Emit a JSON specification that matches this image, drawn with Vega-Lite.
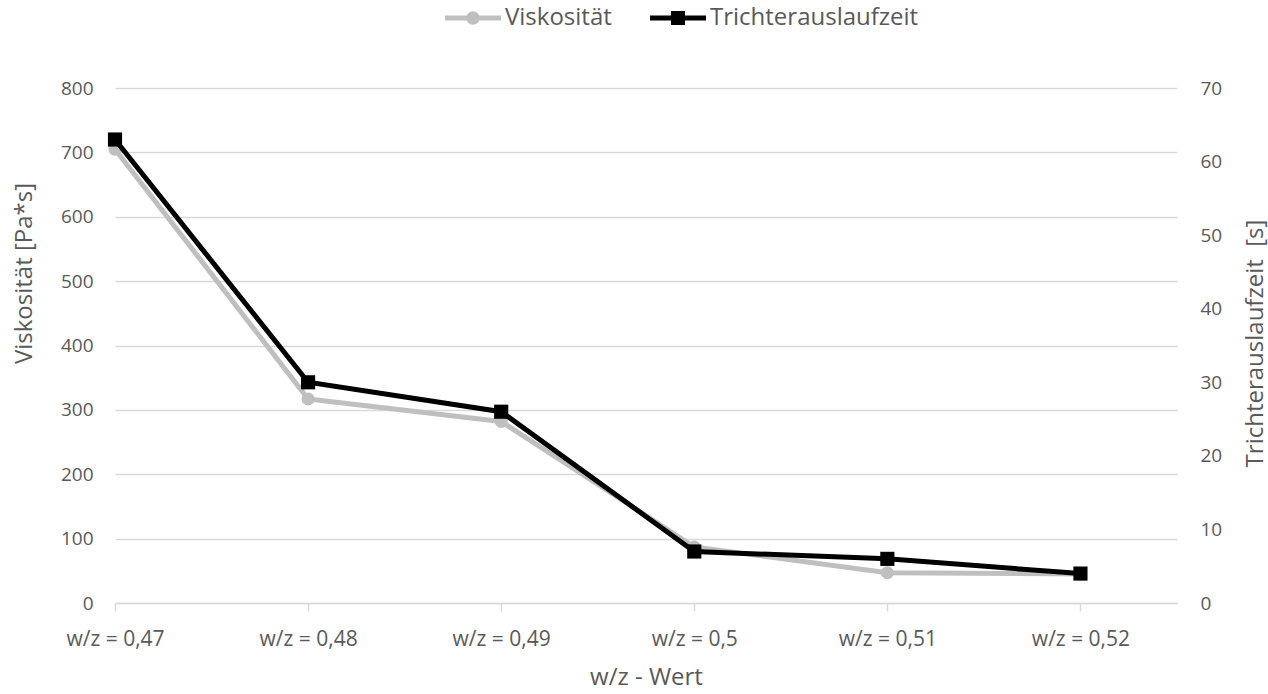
{
  "$schema": "https://vega.github.io/schema/vega-lite/v6.json",
  "width": 1062,
  "height": 515,
  "autosize": {"type": "none"},
  "padding": {"left": 115, "top": 88, "right": 91, "bottom": 91},
  "background": "white",
  "config": {
    "font": "Open Sans",
    "view": {"stroke": null},
    "axis": {
      "labelColor": "#595959",
      "titleColor": "#595959",
      "labelFont": "Open Sans",
      "titleFont": "Open Sans",
      "labelFontSize": 19,
      "titleFontSize": 24,
      "titleFontWeight": "normal",
      "gridColor": "#d9d9d9",
      "gridWidth": 1.3,
      "domainColor": "#d9d9d9",
      "tickColor": "#d9d9d9"
    },
    "legend": {
      "labelColor": "#595959",
      "labelFont": "Open Sans",
      "labelFontSize": 24,
      "labelLimit": 400
    }
  },
  "data": {
    "values": [
      {"wz": "w/z = 0,47", "visk": 705, "zeit": 63},
      {"wz": "w/z = 0,48", "visk": 317, "zeit": 30},
      {"wz": "w/z = 0,49", "visk": 282, "zeit": 26},
      {"wz": "w/z = 0,5", "visk": 87, "zeit": 7},
      {"wz": "w/z = 0,51", "visk": 47, "zeit": 6},
      {"wz": "w/z = 0,52", "visk": 45, "zeit": 4}
    ]
  },
  "encoding": {
    "x": {
      "field": "wz",
      "type": "ordinal",
      "sort": null,
      "scale": {"type": "point", "padding": 0.25, "align": 0},
      "axis": {
        "title": "w/z - Wert",
        "labelAngle": 0,
        "labelFontSize": 21,
        "domain": true,
        "domainWidth": 1.5,
        "ticks": true,
        "tickSize": 8,
        "tickWidth": 1.5,
        "grid": false,
        "labelPadding": 17,
        "titlePadding": 16
      }
    }
  },
  "layer": [
    {
      "encoding": {
        "y": {
          "field": "visk",
          "type": "quantitative",
          "scale": {"domain": [0, 800], "nice": false},
          "axis": {
            "title": "Viskosität [Pa*s]",
            "orient": "left",
            "values": [0, 100, 200, 300, 400, 500, 600, 700, 800],
            "labelOverlap": false,
            "domain": false,
            "ticks": false,
            "grid": true,
            "labelPadding": 22,
            "titleX": -91,
            "titleY": 185,
            "titleAngle": 270,
            "titleBaseline": "middle",
            "titleAlign": "center"
          }
        },
        "color": {
          "datum": "Viskosität",
          "type": "nominal",
          "scale": {"domain": ["Viskosität", "Trichterauslaufzeit"], "range": ["#bfbfbf", "#000000"]},
          "legend": {
            "title": null,
            "orient": "none",
            "direction": "horizontal",
            "legendX": 330,
            "legendY": -98,
            "symbolSize": 3136,
            "labelOffset": 4,
            "columnPadding": 38,
            "symbolStrokeWidth": 0,
            "encode": {
              "symbols": {
                "update": {
                  "shape": {"signal": "datum.value === 'Viskosität' ? 'M-1,-0.09H1V0.09H-1Z M0.24,0 A0.24,0.24 0 1,1 -0.24,0 A0.24,0.24 0 1,1 0.24,0Z' : 'M-1,-0.09H1V0.09H-1Z M-0.25,-0.25H0.25V0.25H-0.25Z'"},
                  "fill": {"signal": "datum.value === 'Viskosität' ? '#bfbfbf' : '#000000'"},
                  "strokeWidth": {"value": 0},
                  "opacity": {"value": 1}
                }
              }
            }
          }
        }
      },
      "layer": [
        {"mark": {"type": "line", "strokeWidth": 5, "strokeJoin": "round"}},
        {"mark": {"type": "point", "shape": "circle", "filled": true, "size": 170, "opacity": 1}}
      ]
    },
    {
      "encoding": {
        "y": {
          "field": "zeit",
          "type": "quantitative",
          "scale": {"domain": [0, 70], "nice": false},
          "axis": {
            "title": "Trichterauslaufzeit \u00a0[s]",
            "orient": "right",
            "values": [0, 10, 20, 30, 40, 50, 60, 70],
            "labelOverlap": false,
            "domain": false,
            "ticks": false,
            "grid": false,
            "labelPadding": 23,
            "titleX": 78,
            "titleY": 255,
            "titleAngle": 270,
            "titleBaseline": "middle",
            "titleAlign": "center"
          }
        },
        "color": {"datum": "Trichterauslaufzeit", "type": "nominal"}
      },
      "layer": [
        {"mark": {"type": "line", "strokeWidth": 5, "strokeJoin": "miter"}},
        {"mark": {"type": "point", "shape": "square", "filled": true, "size": 200, "opacity": 1}}
      ]
    }
  ],
  "resolve": {"scale": {"y": "independent"}}
}
